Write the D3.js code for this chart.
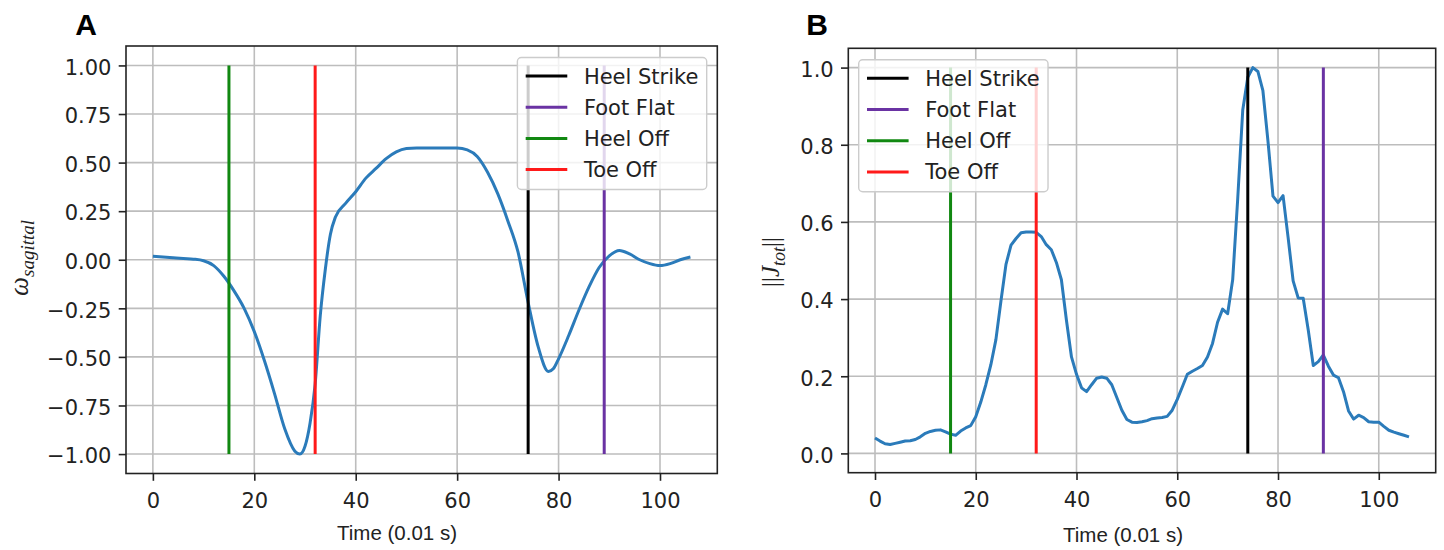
<!DOCTYPE html>
<html><head><meta charset="utf-8">
<script src="https://cdn.jsdelivr.net/npm/d3@7"></script>
<style>body{margin:0;background:#fff} svg{display:block}</style>
</head><body><svg id="c" width="1444" height="550"></svg>
<script>
// ---------- data ----------
const xTicks = [0, 20, 40, 60, 80, 100];
const yTicksA = [-1, -0.75, -0.5, -0.25, 0, 0.25, 0.5, 0.75, 1];
const yTicksB = [0, 0.2, 0.4, 0.6, 0.8, 1.0];
const eventNames = ["Heel Strike", "Foot Flat", "Heel Off", "Toe Off"];
const eventTimes = [74, 89, 15, 32];

const timeA = [0,2,4,6,8,10,12,14,16,18,20,22,24,26,28,29,30,31,32,33,34,35,36,38,40,42,44,46,48,50,52,54,56,58,60,62,64,66,68,70,72,74,76,78,79,80,82,84,86,88,90,92,94,96,98,100,102,104,106];
const omegaA = [0.018,0.014,0.010,0.006,0.003,-0.005,-0.030,-0.085,-0.160,-0.250,-0.370,-0.520,-0.690,-0.870,-0.985,
  -1.000,-0.960,-0.840,-0.640,-0.290,-0.050,0.130,0.220,
  0.290,0.350,0.420,0.470,0.520,0.555,0.572,0.575,0.575,0.575,0.575,0.575,0.565,0.530,0.450,0.340,0.200,0.040,-0.220,-0.450,-0.575,
  -0.560,
  -0.510,-0.390,-0.260,-0.140,-0.040,0.020,0.048,0.030,0.000,-0.020,-0.030,-0.020,0.000,0.014];

const jtotB = [
  0.040,0.032,0.025,0.023,0.026,0.029,0.032,0.033,0.036,0.043,
  0.052,0.057,0.060,0.061,0.056,0.050,0.047,0.058,0.066,0.072,
  0.095,0.133,0.178,0.230,0.295,0.395,0.490,0.540,0.557,0.572,
  0.574,0.574,0.573,0.562,0.541,0.528,0.495,0.450,0.345,0.250,
  0.205,0.170,0.160,0.178,0.195,0.198,0.195,0.178,0.145,0.112,
  0.088,0.081,0.080,0.082,0.085,0.090,0.092,0.093,0.096,0.112,
  0.140,0.172,0.205,0.213,0.220,0.228,0.250,0.285,0.340,0.374,
  0.362,0.450,0.660,0.890,0.975,1.000,0.990,0.940,0.810,0.667,
  0.650,0.668,0.560,0.447,0.403,0.402,0.320,0.228,0.238,0.255,
  0.226,0.203,0.196,0.160,0.110,0.089,0.099,0.093,0.082,0.081,
  0.081,0.070,0.060,0.055,0.051,0.047,0.043];

// ---------- style ----------
const eventColors = ["#000000", "#6a33a3", "#118811", "#ff1a1a"];
const lineColor = "#2b7bba";
const textColor = "#222";
const tickFont = "'DejaVu Sans', sans-serif";

const svg = d3.select("#c");

function panel(cfg) {
  const g = svg.append("g");
  const x = d3.scaleLinear().domain([-5.3, 111.3]).range([cfg.left, cfg.right]);
  const y = d3.scaleLinear().domain(cfg.yDomain).range([cfg.bottom, cfg.top]);
  const clipId = "clip" + cfg.id;
  svg.append("clipPath").attr("id", clipId).append("rect")
    .attr("x", cfg.left).attr("y", cfg.top)
    .attr("width", cfg.right - cfg.left).attr("height", cfg.bottom - cfg.top);

  // grid
  g.append("g").selectAll("line").data(xTicks).join("line")
    .attr("x1", d => x(d)).attr("x2", d => x(d))
    .attr("y1", cfg.top).attr("y2", cfg.bottom)
    .attr("stroke", "#bdbdbd").attr("stroke-width", 1.6);
  g.append("g").selectAll("line").data(cfg.yTicks).join("line")
    .attr("y1", d => y(d)).attr("y2", d => y(d))
    .attr("x1", cfg.left).attr("x2", cfg.right)
    .attr("stroke", "#bdbdbd").attr("stroke-width", 1.6);

  // signal
  const line = d3.line().x(d => x(d[0])).y(d => y(d[1])).curve(cfg.curve);
  g.append("path").datum(cfg.times.map((t, i) => [t, cfg.values[i]]))
    .attr("clip-path", `url(#${clipId})`)
    .attr("d", line).attr("fill", "none")
    .attr("stroke", lineColor).attr("stroke-width", 3)
    .attr("stroke-linejoin", "round");

  // event lines
  g.append("g").selectAll("line").data(eventTimes).join("line")
    .attr("x1", d => x(d)).attr("x2", d => x(d))
    .attr("y1", y(cfg.eventRange[0])).attr("y2", y(cfg.eventRange[1]))
    .attr("stroke", (d, i) => eventColors[i]).attr("stroke-width", 3);

  // frame
  g.append("rect").attr("x", cfg.left).attr("y", cfg.top)
    .attr("width", cfg.right - cfg.left).attr("height", cfg.bottom - cfg.top)
    .attr("fill", "none").attr("stroke", "#222").attr("stroke-width", 1.6);

  // axes
  const ax = g.append("g").attr("transform", `translate(0,${cfg.bottom})`)
    .call(d3.axisBottom(x).tickValues(xTicks).tickSize(7.3).tickPadding(12).tickFormat(d3.format("d")));
  const ay = g.append("g").attr("transform", `translate(${cfg.left},0)`)
    .call(d3.axisLeft(y).tickValues(cfg.yTicks).tickSize(7.3).tickPadding(7.3).tickFormat(d3.format(cfg.fmt)));
  [ax, ay].forEach(a => {
    a.select(".domain").remove();
    a.selectAll("line").attr("stroke", "#222").attr("stroke-width", 1.6);
    a.selectAll("text").attr("fill", textColor).style("font-family", tickFont).style("font-size", "21px");
  });
  ay.selectAll("text").attr("dy", "0.42em");

  // x label
  g.append("text").attr("x", cfg.xLabelX).attr("y", cfg.xLabelY)
    .attr("text-anchor", "middle").attr("fill", textColor)
    .style("font-family", "'Liberation Sans', Arial, sans-serif").style("font-size", "20.5px")
    .text("Time (0.01 s)");

  // panel letter
  g.append("text").attr("x", cfg.letterX).attr("y", 35)
    .attr("text-anchor", "middle").attr("fill", "#000")
    .style("font-family", "'Liberation Sans', Arial, sans-serif").style("font-size", "30px")
    .style("font-weight", "bold").text(cfg.letter);

  // legend
  const lg = g.append("g");
  const box = lg.append("rect");
  const texts = [];
  eventNames.forEach((name, i) => {
    const t = lg.append("text").attr("fill", textColor)
      .style("font-family", tickFont).style("font-size", "21px").text(name);
    texts.push(t);
  });
  const maxW = d3.max(texts, t => t.node().getComputedTextLength());
  const boxW = 8.3 + 41.6 + 16.6 + maxW + 8.3;
  const boxH = 132;
  const boxX = cfg.legendSide === "right" ? cfg.right - 10.6 - boxW : cfg.left + 10.4;
  const boxY = cfg.top + 11.5;
  box.attr("x", boxX).attr("y", boxY).attr("width", boxW).attr("height", boxH)
    .attr("rx", 4).attr("fill", "#fff").attr("fill-opacity", 0.8)
    .attr("stroke", "#cccccc").attr("stroke-width", 1.4);
  eventNames.forEach((name, i) => {
    const cy = boxY + 18.5 + i * 31.2;
    lg.append("line").attr("x1", boxX + 8.3).attr("x2", boxX + 8.3 + 41.6)
      .attr("y1", cy).attr("y2", cy).attr("stroke", eventColors[i]).attr("stroke-width", 3);
    texts[i].attr("x", boxX + 8.3 + 41.6 + 16.6).attr("y", cy).attr("dy", "0.36em");
  });
  return g;
}

panel({
  id: "A", left: 126, right: 717.3, top: 46, bottom: 473.5,
  yDomain: [-1.1, 1.1], yTicks: yTicksA, fmt: ".2f",
  times: timeA, values: omegaA, curve: d3.curveMonotoneX,
  eventRange: [-1, 1], legendSide: "right",
  xLabelX: 397, xLabelY: 540, letter: "A", letterX: 86
});
panel({
  id: "B", left: 848.3, right: 1435.7, top: 48.3, bottom: 472.7,
  yDomain: [-0.05, 1.05], yTicks: yTicksB, fmt: ".1f",
  times: jtotB.map((v, i) => i), values: jtotB, curve: d3.curveLinear,
  eventRange: [0, 1], legendSide: "left",
  xLabelX: 1123, xLabelY: 542, letter: "B", letterX: 817
});

// y labels (math-style)
const yl = svg.append("text").attr("transform", "translate(28,258) rotate(-90)")
  .attr("text-anchor", "middle").attr("fill", textColor)
  .style("font-family", "'Liberation Serif', 'DejaVu Serif', serif").style("font-style", "italic");
yl.append("tspan").style("font-size", "27px").text("ω");
yl.append("tspan").style("font-size", "19px").attr("dy", 6).text("sagittal");

const yr = svg.append("text").attr("transform", "translate(779,262) rotate(-90)")
  .attr("text-anchor", "middle").attr("fill", textColor)
  .style("font-family", "'Liberation Serif', 'DejaVu Serif', serif");
yr.append("tspan").style("font-size", "25px").text("||");
yr.append("tspan").style("font-size", "25px").style("font-style", "italic").text("J");
yr.append("tspan").style("font-size", "18px").style("font-style", "italic").attr("dy", 6).text("tot");
yr.append("tspan").style("font-size", "25px").attr("dy", -6).text("||");
</script>
</body></html>
